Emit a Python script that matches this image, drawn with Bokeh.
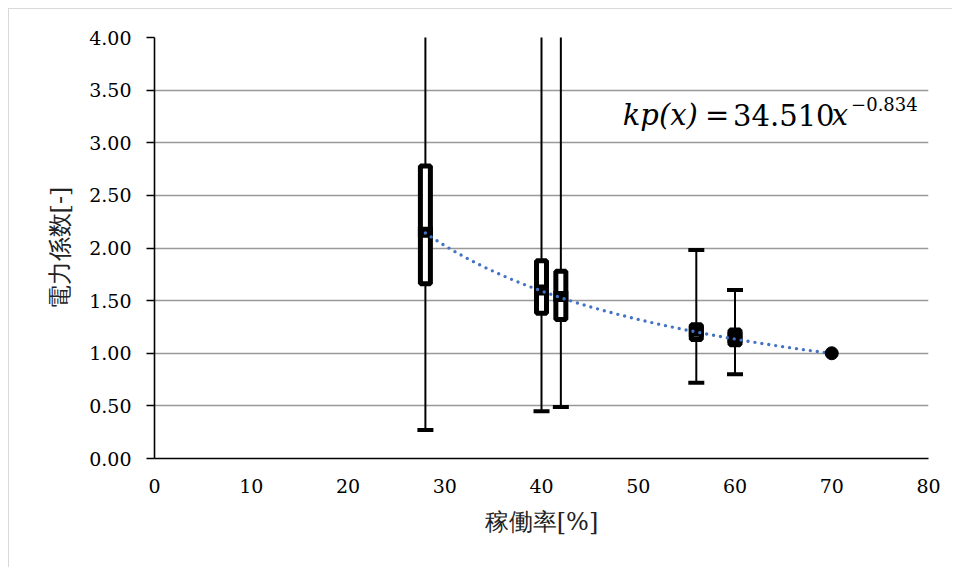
from bokeh.plotting import figure
from bokeh.models import FixedTicker, PrintfTickFormatter, Label, Range1d
from bokeh.embed import file_html
from bokeh.resources import INLINE

# ---- data ----
rate = [28, 40, 42, 56, 60]            # 稼働率 [%]
whisker_lo = [0.27, 0.45, 0.49, 0.72, 0.80]
box_lo = [1.66, 1.38, 1.32, 1.13, 1.08]
box_mid = [2.15, 1.60, 1.54, 1.21, 1.15]
box_hi = [2.78, 1.88, 1.78, 1.27, 1.22]
whisker_hi = [4.60, 4.80, 4.70, 1.98, 1.60]
ref_x = [70]
ref_y = [1.00]
# trendline kp(x) = a * x^b
coef_a = 34.510
coef_b = -0.834
trend_x = [28 + i * 0.5 for i in range(85)]
trend_y = [coef_a * x ** coef_b for x in trend_x]
x_ticks = [0, 10, 20, 30, 40, 50, 60, 70, 80]
y_ticks = [0.0, 0.5, 1.0, 1.5, 2.0, 2.5, 3.0, 3.5, 4.0]

SERIF = "DejaVu Serif"

p = figure(width=944, height=559, output_backend="svg", toolbar_location=None,
           x_range=Range1d(0, 80), y_range=Range1d(0, 4),
           min_border_left=145, min_border_right=25,
           min_border_top=28, min_border_bottom=110)
p.styles = {"margin-left": "8px", "margin-top": "8px",
            "border-left": "1px solid #d9d9d9", "border-top": "1px solid #d9d9d9"}
p.outline_line_color = None
p.background_fill_color = "white"

p.xgrid.visible = False
p.ygrid.ticker = FixedTicker(ticks=y_ticks)
p.ygrid.grid_line_color = "#999999"
p.ygrid.grid_line_width = 1.6

p.xaxis.ticker = FixedTicker(ticks=x_ticks)
p.yaxis.ticker = FixedTicker(ticks=y_ticks)
p.yaxis.formatter = PrintfTickFormatter(format="%.2f")
for ax in (p.xaxis, p.yaxis):
    ax.axis_line_color = "black"
    ax.axis_line_width = 1.6
    ax.major_tick_line_color = "black"
    ax.major_tick_line_width = 1.6
    ax.minor_tick_line_color = None
    ax.major_tick_in = 0
    ax.major_label_text_font = SERIF
    ax.major_label_text_font_size = "19px"
    ax.major_label_text_color = "black"
    ax.axis_label_text_font = SERIF
    ax.axis_label_text_font_size = "24px"
    ax.axis_label_text_font_style = "normal"
    ax.axis_label_text_color = "#222222"
p.xaxis.major_tick_out = 0
p.yaxis.major_tick_out = 8
p.xaxis.major_label_standoff = 20
p.yaxis.major_label_standoff = 15
p.xaxis.axis_label = "稼働率[%]"
p.yaxis.axis_label = "電力係数[-]"
p.xaxis.axis_label_standoff = 12
p.yaxis.axis_label_standoff = 12

# whiskers
p.segment(x0=rate, y0=whisker_lo, x1=rate, y1=whisker_hi, line_color="black", line_width=2)
p.rect(x=rate, y=whisker_lo, width=16, height=4, width_units="screen", height_units="screen",
       fill_color="black", line_color=None)
p.rect(x=rate, y=whisker_hi, width=16, height=4, width_units="screen", height_units="screen",
       fill_color="black", line_color=None)

# boxes
box_c = [(a + b) / 2 for a, b in zip(box_lo, box_hi)]
box_h = [b - a for a, b in zip(box_lo, box_hi)]
p.rect(x=rate, y=box_c, width=10, height=box_h, width_units="screen",
       fill_color="white", line_color="black", line_width=5)
p.rect(x=rate, y=box_mid, width=15, height=11, width_units="screen", height_units="screen",
       fill_color="black", line_color=None)

# trendline
p.line(trend_x, trend_y, line_color="#4472C4", line_width=3.4, line_dash="0 7", line_cap="round")

# reference point
p.scatter(ref_x, ref_y, size=13, marker="circle", fill_color="black", line_color="black")

# formula
fy = 3.26
sy = 3.37
p.add_layout(Label(x=48.4, y=fy, text="kp(x)", text_font=SERIF,
                   text_font_style="italic", text_font_size="29px", text_color="black",
                   text_baseline="alphabetic"))
p.add_layout(Label(x=56.9, y=fy, text="=", text_font=SERIF,
                   text_font_size="29px", text_color="black", text_baseline="alphabetic"))
p.add_layout(Label(x=59.8, y=fy, text="34.510", text_font=SERIF,
                   text_font_size="29px", text_color="black", text_baseline="alphabetic"))
p.add_layout(Label(x=70.0, y=fy, text="x", text_font=SERIF,
                   text_font_style="italic", text_font_size="29px", text_color="black",
                   text_baseline="alphabetic"))
p.add_layout(Label(x=72.0, y=sy, text="−0.834", text_font=SERIF,
                   text_font_size="18px", text_color="black", text_baseline="alphabetic"))

open("out.html", "w").write(file_html(p, INLINE))
